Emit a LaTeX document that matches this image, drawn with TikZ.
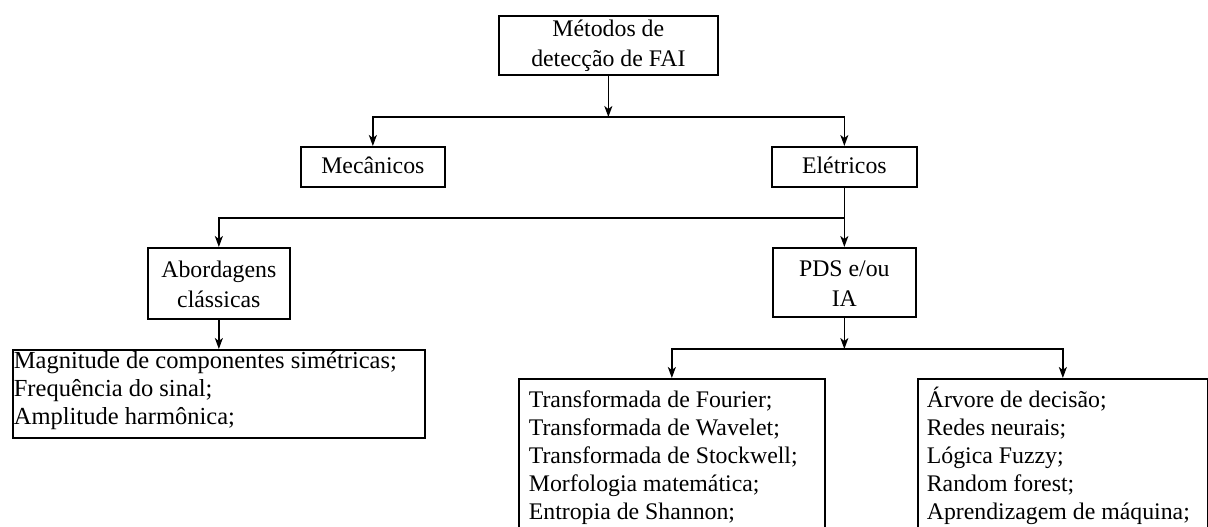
\documentclass[tikz,border=0pt]{standalone}
\usepackage{fontspec}
\setmainfont{Liberation Serif}
\usetikzlibrary{arrows.meta}
\begin{document}
\begin{tikzpicture}[x=1pt,y=-1pt,
  txtfont/.style={font=\fontsize{23.8}{30}\selectfont},
  listfont/.style={font=\fontsize{23.8}{28}\selectfont},
  frame/.style={draw, line width=1.7pt, inner sep=0pt, anchor=north west},
  conn/.style={line width=1.6pt},
  arr/.style={conn, -{Stealth[length=11pt,width=8pt,inset=3pt]}},
]
\clip (0,0) rectangle (1208,527);
\fill[white] (0,0) rectangle (1208,527);

% junction rows
\coordinate (bus1) at (0,117);
\coordinate (bus2) at (0,218);
\coordinate (bus3) at (0,349);

% boxes
\node[frame, txtfont, minimum width=219pt, text height=21pt, text depth=38pt] (top) at (498,15)
  {\begin{tabular}[t]{@{}c@{}}Métodos de\\detecção de FAI\end{tabular}};
\node[frame, txtfont, minimum width=144pt, text height=27pt, text depth=13pt] (mec) at (300,146) {Mecânicos};
\node[frame, txtfont, minimum width=145pt, text height=27pt, text depth=13pt] (ele) at (771,146) {Elétricos};
\node[frame, txtfont, minimum width=142pt, text height=30pt, text depth=41pt] (abo) at (147,247)
  {\begin{tabular}[t]{@{}c@{}}Abordagens\\clássicas\end{tabular}};
\node[frame, txtfont, minimum width=143pt, text height=29pt, text depth=40pt] (pds) at (772,247)
  {\begin{tabular}[t]{@{}c@{}}PDS e/ou\\IA\end{tabular}};
\node[frame, font=\fontsize{24.5}{28}\selectfont, minimum width=412pt, text height=18.5pt, text depth=69.5pt] (cls) at (12,349)
  {\makebox[410pt][l]{\begin{tabular}[t]{@{}l@{}}Magnitude de componentes simétricas;\\Frequência do sinal;\\Amplitude harmônica;\end{tabular}}};
\node[frame, listfont, minimum width=306pt, text height=28.5pt, text depth=141.5pt] (pdsl) at (518,378)
  {\makebox[286pt][l]{\begin{tabular}[t]{@{}l@{}}Transformada de Fourier;\\Transformada de Wavelet;\\Transformada de Stockwell;\\Morfologia matemática;\\Entropia de Shannon;\end{tabular}}};
\node[frame, listfont, minimum width=290pt, text height=28.5pt, text depth=141.5pt] (ial) at (917,378)
  {\makebox[272pt][l]{\begin{tabular}[t]{@{}l@{}}Árvore de decisão;\\Redes neurais;\\Lógica Fuzzy;\\Random forest;\\Aprendizagem de máquina;\end{tabular}}};

% connectors
\draw[arr] (top.south) -- (top.south |- bus1);
\draw[arr] (top.south |- bus1) -| (mec.north);
\draw[arr] (top.south |- bus1) -| (ele.north);

\draw[conn] (ele.south) -- (ele.south |- bus2);
\draw[arr] (ele.south |- bus2) -| (abo.north);
\draw[arr] (ele.south |- bus2) -- (pds.north);

\draw[arr] (abo.south) -- (cls.north);

\draw[arr] (pds.south) -- (pds.south |- bus3);
\draw[arr] (pds.south |- bus3) -| (pdsl.north);
\draw[arr] (pds.south |- bus3) -| (ial.north);
\end{tikzpicture}
\end{document}
